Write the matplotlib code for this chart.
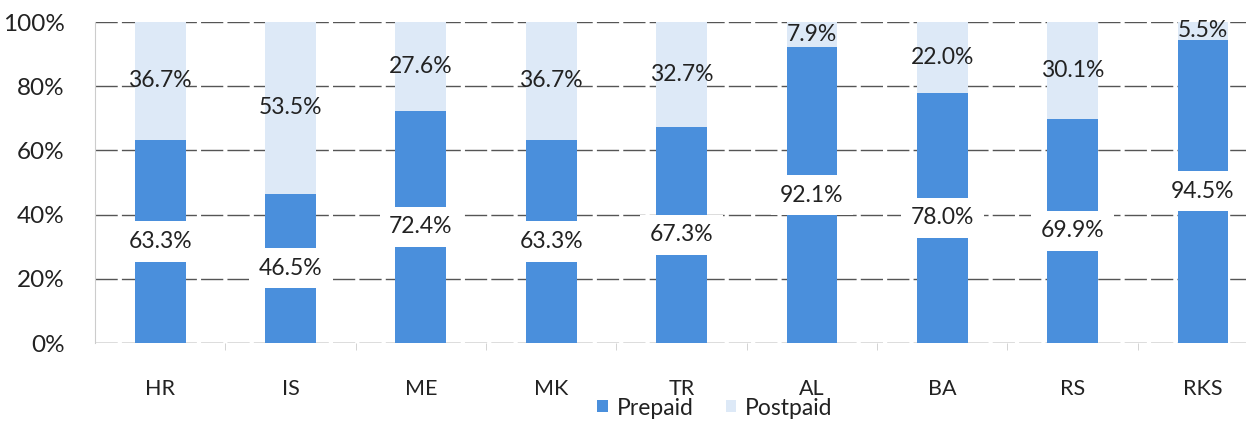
import numpy as np
import matplotlib
matplotlib.use("Agg")
import matplotlib.pyplot as plt

plt.rcParams["font.family"] = ["Lato", "DejaVu Sans"]

# data
countries = ["HR", "IS", "ME", "MK", "TR", "AL", "BA", "RS", "RKS"]
prepaid = [63.3, 46.5, 72.4, 63.3, 67.3, 92.1, 78.0, 69.9, 94.5]
postpaid = [36.7, 53.5, 27.6, 36.7, 32.7, 7.9, 22.0, 30.1, 5.5]

dark_blue = "#4a8fdc"
light_blue = "#dde9f7"
text_col = "#222222"

fig = plt.figure(figsize=(12.46, 4.23), dpi=100)
ax = fig.add_axes([95 / 1246, 1 - 343 / 423, 1 - 95 / 1246, 321 / 423])

x = np.arange(len(countries))
w = 0.39
ax.bar(x, prepaid, width=w, color=dark_blue, label="Prepaid", zorder=2)
ax.bar(x, postpaid, width=w, bottom=prepaid, color=light_blue, label="Postpaid", zorder=2)

# data labels
for i in range(len(countries)):
    ax.text(x[i], prepaid[i] / 2, "%.1f%%" % prepaid[i], ha="center", va="center",
            fontsize=16.5, color=text_col, zorder=3,
            bbox=dict(boxstyle="square,pad=0.42", fc="white", ec="none"))
    ax.text(x[i], prepaid[i] + postpaid[i] / 2, "%.1f%%" % postpaid[i], ha="center",
            va="center", fontsize=16.5, color=text_col, zorder=3)

ax.set_ylim(0, 100)
ax.set_xlim(-0.5, 8.33)
ax.set_yticks(np.arange(0, 101, 20))
ax.set_yticklabels(["%d%%" % v for v in range(0, 101, 20)], fontsize=17.5, color=text_col)
ax.set_xticks(x)
ax.set_xticklabels(countries, fontsize=15.5, color=text_col)
ax.set_xticks(np.arange(0.5, 8.5, 1), minor=True)
ax.tick_params(axis="x", which="major", length=0, pad=26)
ax.tick_params(axis="x", which="minor", length=5, color="#cccccc")
ax.tick_params(axis="y", length=0, pad=22)

ax.grid(axis="y", color="#555555", linewidth=1.0, linestyle=(0, (16, 3)), zorder=0)
for s in ["top", "right", "bottom"]:
    ax.spines[s].set_visible(False)
ax.spines["left"].set_color("#cccccc")

fig.legend(loc="center", bbox_to_anchor=(715 / 1246, 1 - 408 / 423), ncol=2,
           frameon=False, fontsize=16.5, handlelength=0.45, handleheight=0.45,
           handletextpad=0.4, columnspacing=1.4, labelcolor=text_col)

plt.savefig("out.png", dpi=100)
